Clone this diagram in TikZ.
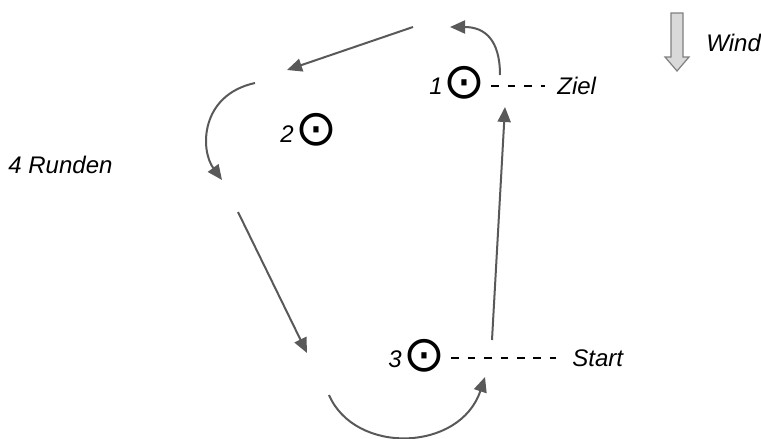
\documentclass[tikz,border=0pt]{standalone}
\usepackage{fontspec}
\setmainfont{Liberation Sans}
\newfontfamily\symfont{DejaVu Sans}
\usetikzlibrary{arrows.meta}
\definecolor{coursegray}{HTML}{595959}
\definecolor{windfill}{HTML}{D9D9D9}
\definecolor{windedge}{HTML}{7F7F7F}

\begin{document}
\begin{tikzpicture}[x=0.5pt,y=-0.5pt,
    course/.style={line width=1pt,draw=coursegray,
      -{Triangle[length=7.5pt,width=6.5pt,fill=coursegray]}},
    lbl/.style={font=\fontsize{12}{14}\selectfont\itshape,inner sep=0pt},
    buoy/.style={font=\symfont\fontsize{25}{25}\selectfont,inner sep=0pt},
    gateline/.style={line width=1pt,dash pattern=on 3.8pt off 4.4pt}]

  % Frame
  \useasboundingbox (0,0) rectangle (761,439);

  % Wind
  \draw[draw=windedge,fill=windfill,line width=0.6pt]
    (671,13) -- (683,13) -- (683,57) -- (689,57) -- (677,71)
    -- (665,57) -- (671,57) -- cycle;
  \node[lbl,anchor=west] (wind) at (706,43) {Wind};

  % Buoys
  \node[buoy] (b1) at (464,83) {⊙};
  \node[lbl] (n1) at (436,86) {1};
  \node[buoy] (b2) at (316,130) {⊙};
  \node[lbl] (n2) at (287,134) {2};
  \node[buoy] (b3) at (424,356) {⊙};
  \node[lbl] (n3) at (395,359) {3};

  % Finish and start lines
  \node[lbl,anchor=west] (ziel) at (557,86) {Ziel};
  \node[lbl,anchor=west] (start) at (572,358) {Start};
  \draw[gateline] (b1.east |- ziel.west) ++(6,0) coordinate (z0) -- ([xshift=-6pt]ziel.west);
  \draw[gateline] (b3.east |- start.west) ++(6,0) coordinate (s0) -- ([xshift=-8pt]start.west);

  \node[lbl,anchor=west] (laps) at (8,165) {4 Runden};

  % Course
  \coordinate (c1a) at (500,75);  \coordinate (c1b) at (450,27);
  \coordinate (c2a) at (413,27);  \coordinate (c2b) at (287,70);
  \coordinate (c3a) at (255,83);  \coordinate (c3b) at (222,180);
  \coordinate (c4a) at (238,212); \coordinate (c4b) at (307,353);
  \coordinate (c5a) at (329,395); \coordinate (c5b) at (485,377);
  \coordinate (c6a) at (492,340); \coordinate (c6b) at (505,107);

  \draw[course] (c1a) .. controls (500,40) and (485,27) .. (c1b);
  \draw[course] (c2a) -- (c2b);
  \draw[course] (c3a) .. controls (200,95) and (200,150) .. (c3b);
  \draw[course] (c4a) -- (c4b);
  \draw[course] (c5a) .. controls (355,455) and (460,452) .. (c5b);
  \draw[course] (c6a) -- (c6b);
\end{tikzpicture}
\end{document}
